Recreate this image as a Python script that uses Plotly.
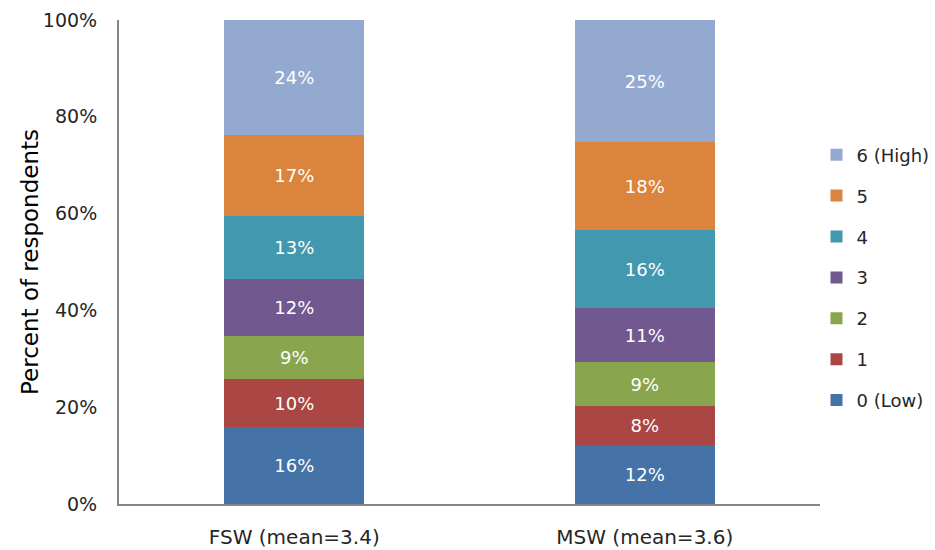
import plotly.graph_objects as go

categories = ["FSW (mean=3.4)", "MSW (mean=3.6)"]
levels = ["0 (Low)", "1", "2", "3", "4", "5", "6 (High)"]
fsw_values = [16, 10, 9, 12, 13, 17, 24]
msw_values = [12, 8, 9, 11, 16, 18, 25]
colors = ["#4572A7", "#AA4643", "#89A54E", "#71588F", "#4198AF", "#DB843D", "#93A9CF"]

FONT = "DejaVu Sans"

fig = go.Figure()
for i, lvl in enumerate(levels):
    vals = [fsw_values[i], msw_values[i]]
    fig.add_trace(go.Bar(
        x=categories, y=vals, name=lvl,
        marker=dict(color=colors[i], line=dict(width=0)),
        text=[f"{v}%" for v in vals],
        textposition="inside", insidetextanchor="middle",
        textfont=dict(color="white", size=18, family=FONT),
        constraintext="none",
        legendgroup=lvl, legendrank=100 - i,
    ))

fig.update_layout(
    barmode="stack", barnorm="percent", bargap=0.6,
    width=935, height=550,
    margin=dict(l=119, r=115, t=20, b=46, autoexpand=False),
    plot_bgcolor="white", paper_bgcolor="white",
    font=dict(family=FONT, color="#262626"),
    showlegend=True,
    legend=dict(traceorder="grouped", x=0.995, xanchor="left", y=0.468, yanchor="middle",
                font=dict(size=18, color="#262626"), tracegroupgap=14.5,
                itemwidth=30),
    uniformtext=dict(mode=False),
    annotations=[dict(text="Percent of respondents", textangle=-90, xref="paper", yref="paper",
                      x=-0.127, y=0.5, xanchor="center", yanchor="middle", showarrow=False,
                      font=dict(size=23, color="black", family=FONT))],
)
fig.update_yaxes(range=[0, 100], dtick=20, ticksuffix="%", showgrid=False,
                 showline=True, linecolor="#868686", linewidth=2, ticks="",
                 ticklabelstandoff=16, tickfont=dict(size=19, color="#262626"),
                 zeroline=False)
fig.update_xaxes(showline=True, linecolor="#868686", linewidth=2, ticks="",
                 tickfont=dict(size=20, color="#262626"), ticklabelstandoff=14)

fig.write_html("out.html")
